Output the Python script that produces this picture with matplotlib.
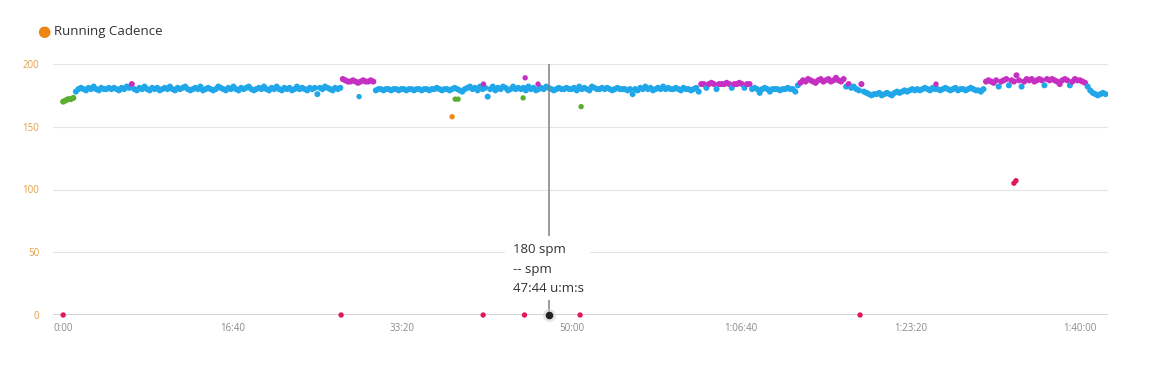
import matplotlib.pyplot as plt
import numpy as np
from matplotlib.patches import Rectangle

plt.rcParams['font.family'] = ['Open Sans', 'DejaVu Sans']

STEP = 15  # seconds between samples

# running cadence (spm), one value every STEP seconds
cadence = [
    170, 171, 172, 172, 173, 178, 180, 181, 180, 179, 181, 180, 182, 180, 179, 181, 180, 180, 181, 180,
    181, 180, 179, 181, 180, 182, 181, 184, 180, 179, 181, 180, 182, 180, 179, 181, 180, 181, 179, 180,
    181, 180, 182, 180, 179, 181, 180, 181, 182, 180, 179, 180, 181, 180, 182, 179, 180, 181, 180, 179,
    180, 182, 181, 180, 179, 181, 180, 182, 180, 179, 181, 180, 181, 182, 180, 179, 180, 181, 180, 182,
    180, 179, 181, 180, 182, 180, 179, 181, 180, 181, 179, 180, 182, 180, 181, 180, 179, 181, 180, 181,
    176, 181, 180, 182, 181, 180, 179, 181, 180, 181, 188, 187, 186, 186, 187, 186, 185, 186, 187, 186,
    186, 187, 186, 179, 180, 180, 179, 180, 180, 179, 180, 180, 179, 180, 180, 179, 180, 180, 179, 180,
    180, 179, 180, 180, 179, 180, 180, 181, 180, 179, 180, 180, 179, 180, 181, 180, 179, 178, 180, 181,
    182, 180, 181, 179, 182, 180, 181, 174, 180, 182, 179, 181, 180, 182, 181, 179, 180, 182, 180, 181,
    180, 181, 179, 182, 180, 181, 179, 180, 181, 180, 182, 181, 180, 179, 180, 181, 180, 180, 181, 180,
    180, 181, 179, 182, 180, 181, 180, 179, 182, 181, 180, 180, 181, 180, 181, 180, 179, 180, 181, 180,
    180, 180, 179, 180, 176, 180, 179, 181, 180, 182, 180, 181, 179, 180, 181, 180, 182, 180, 181, 180,
    180, 181, 180, 179, 181, 180, 180, 179, 180, 181, 178, 184, 184, 181, 184, 185, 184, 180, 184, 184,
    184, 185, 184, 181, 184, 184, 185, 184, 181, 184, 184, 180, 181, 180, 177, 180, 181, 180, 178, 180,
    180, 180, 179, 180, 180, 181, 180, 180, 178, 183, 185, 187, 186, 188, 187, 186, 185, 187, 188, 186,
    187, 188, 186, 187, 189, 187, 186, 188, 182, 184, 181, 182, 180, 179, 184, 178, 177, 176, 175, 176,
    176, 177, 175, 176, 177, 176, 175, 177, 178, 177, 178, 179, 178, 179, 180, 179, 180, 179, 180, 181,
    180, 179, 181, 180, 180, 179, 180, 181, 180, 179, 180, 181, 179, 180, 180, 179, 180, 181, 180, 179,
    179, 178, 180, 186, 187, 186, 185, 187, 182, 186, 187, 188, 183, 187, 186, 191, 187, 182, 186, 188,
    187, 188, 186, 187, 188, 187, 183, 188, 187, 188, 187, 186, 184, 187, 188, 187, 183, 186, 188, 187,
    187, 186, 185, 182, 179, 177, 176, 175, 176, 177, 176,
]

# isolated readings (seconds, spm)
extra_time = [0, 1640, 1746, 2295, 2313, 2330, 2478, 2480, 2714, 2722, 2726, 2802,
              3050, 3056, 4702, 5150, 5610, 5622]
extra_cadence = [0, 0, 174, 158, 172, 172, 0, 184, 173, 0, 189, 184,
                 0, 166, 0, 184, 105, 107]

xticks = [0, 1000, 2000, 3000, 4000, 5000, 6000]
xtick_labels = ['0:00', '16:40', '33:20', '50:00', '1:06:40', '1:23:20', '1:40:00']
yticks = [0, 50, 100, 150, 200]

cursor_time = 2864
tooltip_lines = ['180 spm', '-- spm', '47:44 u:m:s']


def zone_color(v):
    if v > 183:
        return '#c52fc2'
    if v >= 174:
        return '#1fa7e9'
    if v >= 164:
        return '#5aae2e'
    if v >= 153:
        return '#ee8a1c'
    return '#e0175a'


def main():
    fig = plt.figure(figsize=(11.56, 3.7), dpi=100)
    ax = fig.add_axes([53 / 1156, 1 - 315 / 370, 1055 / 1156, 251 / 370])

    t = np.arange(len(cadence)) * STEP
    ax.scatter(t, cadence, s=19, c=[zone_color(v) for v in cadence],
               linewidths=0, zorder=3)
    ax.scatter(extra_time, extra_cadence, s=15,
               c=[zone_color(v) for v in extra_cadence],
               linewidths=0, zorder=4, clip_on=False)

    ax.set_xlim(-60, 6165)
    ax.set_ylim(0, 200)
    ax.set_xticks(xticks)
    ax.set_xticklabels(xtick_labels)
    ax.set_yticks(yticks)
    for s in ax.spines.values():
        s.set_visible(False)
    ax.tick_params(axis='both', length=0, labelsize=7)
    ax.tick_params(axis='x', pad=6, labelcolor='#8a8a8a')
    ax.tick_params(axis='y', pad=10, labelcolor='#e3a045')
    for y in yticks[1:]:
        ax.axhline(y, color='#e6e6e6', lw=0.8, zorder=1)
    ax.axhline(0, color='#cfcfcf', lw=1.3, zorder=1)

    # hover cursor
    ax.plot([cursor_time, cursor_time], [0, 200], color='#808080', lw=1.1, zorder=5)
    ax.scatter([cursor_time], [0], s=90, color='#d8d8d8', alpha=0.6,
               linewidths=0, zorder=6, clip_on=False)
    ax.scatter([cursor_time], [0], s=30, color='#222222',
               linewidths=0, zorder=7, clip_on=False)

    fig.patches.append(Rectangle((505 / 1156, 1 - 300 / 370), 85 / 1156, 64 / 370,
                                 transform=fig.transFigure, facecolor='white',
                                 edgecolor='none', zorder=8))
    for i, line in enumerate(tooltip_lines):
        fig.text(513 / 1156, 1 - (250 + 19.5 * i) / 370, line, fontsize=9.5,
                 color='#333333', va='center', ha='left', zorder=9)

    # legend
    fig.text(44 / 1156, 1 - 32 / 370, '\u25cf', fontsize=11, color='#ee8412',
             ha='center', va='center', family='DejaVu Sans')
    fig.text(54 / 1156, 1 - 32 / 370, 'Running Cadence', fontsize=9.5,
             color='#333333', ha='left', va='center')

    fig.savefig('out.png', dpi=100)


if __name__ == "__main__":
    main()
